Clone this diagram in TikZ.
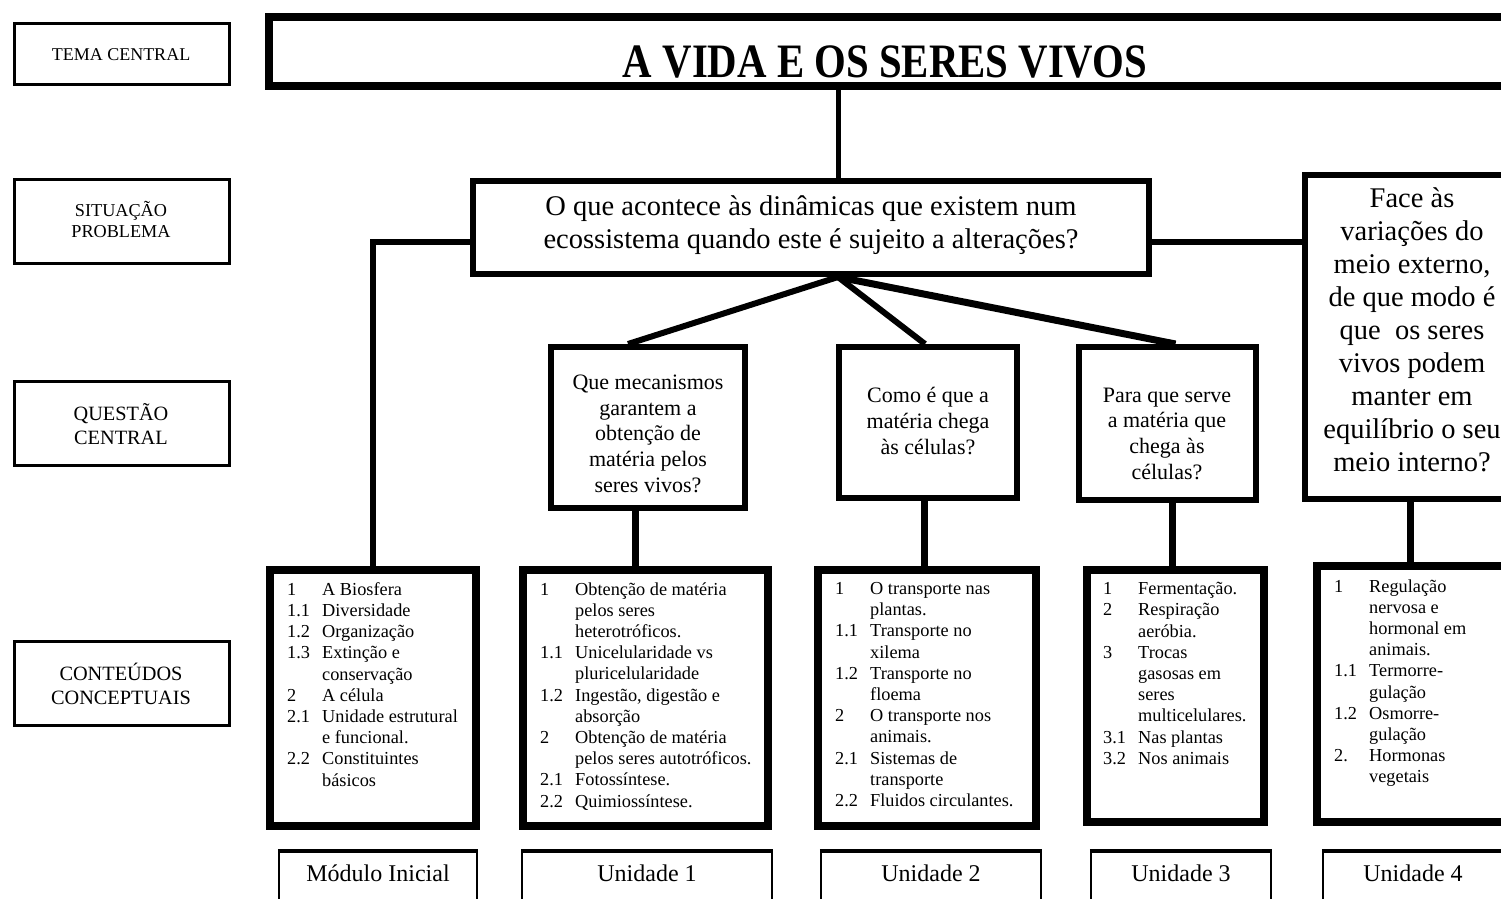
\documentclass[tikz,border=0pt]{standalone}
\usepackage{fontspec}
\setmainfont{Liberation Serif}
\usepackage{graphicx}
% numbered entry and its continuation line in the content lists
\newcommand\numitem[2]{\makebox[35pt][l]{#1}#2}
\newcommand\contline[1]{\hspace*{35pt}#1}

\begin{document}
\begin{tikzpicture}[x=1pt,y=-1pt,
  lbl/.style={draw, line width=2.5pt, minimum width=215pt, inner sep=0pt},
  lbltext/.style={align=center, inner sep=0pt, execute at begin node=\strut, execute at end node=\strut},
  thickbox/.style={draw, line width=6pt, inner sep=0pt},
  contbox/.style={draw, line width=8pt, inner sep=0pt},
  unitbox/.style={draw, line width=2.5pt, inner sep=0pt},
  qtext/.style={align=center, inner sep=0pt, font=\fontsize{22}{25.8}\selectfont,
    execute at begin node=\strut, execute at end node=\strut},
  bigtext/.style={align=center, inner sep=0pt, font=\fontsize{28.5}{33}\selectfont,
    execute at begin node=\strut, execute at end node=\strut},
  ctext/.style={align=left, inner sep=0pt, anchor=north west,
    font=\fontsize{18.3}{21.2}\selectfont, execute at begin node=\strut},
  utext/.style={inner sep=0pt, font=\fontsize{24}{28}\selectfont,
    execute at begin node=\strut},
  conn/.style={line width=6pt},
]
\useasboundingbox (0,0) rectangle (1501,898);
\clip (0,0) rectangle (1501,898);

% row labels on the left
\node[lbl, minimum height=61pt] (lab1) at (122,54) {};
\node[lbltext, font=\fontsize{18}{21}\selectfont] (lab1t) at (121,56) {TEMA CENTRAL};
\node[lbl, minimum height=84pt] (lab2) at (122,221.5) {};
\node[lbltext, font=\fontsize{18.2}{21}\selectfont] (lab2t) at (121,223) {SITUAÇÃO\\PROBLEMA};
\node[lbl, minimum height=84pt] (lab3) at (122,423.5) {};
\node[lbltext, font=\fontsize{20.3}{24}\selectfont] (lab3t) at (121,428) {QUESTÃO\\CENTRAL};
\node[lbl, minimum height=84pt] (lab4) at (122,683.5) {};
\node[lbltext, font=\fontsize{20.3}{24}\selectfont] (lab4t) at (121,687) {CONTEÚDOS\\CONCEPTUAIS};

% central theme
\node[draw, line width=8pt, minimum width=1240pt, minimum height=69pt, inner sep=0pt] (title) at (889,51.5) {};
\node[anchor=base, inner sep=0pt, font=\fontsize{48}{50}\selectfont\bfseries] (titlet) at (885,77)
  {\scalebox{0.85}[1]{A VIDA E OS SERES VIVOS}};

% problem situation
\node[thickbox, minimum width=676pt, minimum height=93pt] (sit) at (811,227.5) {};
\node[bigtext] (sitt) at (811,227.5) {O que acontece às dinâmicas que existem num\\ecossistema quando este é sujeito a alterações?};

% fourth question, on the right
\node[thickbox, minimum width=220pt, minimum height=324pt] (face) at (1415,337) {};
\node[bigtext] (facet) at (1412,335) {Face às\\variações do\\meio externo,\\de que modo é\\que\ \ os seres\\vivos podem\\manter em\\equilíbrio o seu\\meio interno?};

% central questions
\node[thickbox, minimum width=194pt, minimum height=161pt] (q1) at (648,427.5) {};
\node[qtext] (q1t) at (648,437.5) {Que mecanismos\\garantem a\\obtenção de\\matéria pelos\\seres vivos?};
\node[thickbox, minimum width=178pt, minimum height=151pt] (q2) at (928,422.5) {};
\node[qtext] (q2t) at (928,424.5) {Como é que a\\matéria chega\\às células?};
\node[thickbox, minimum width=177pt, minimum height=153pt] (q3) at (1167.5,423.5) {};
\node[qtext] (q3t) at (1167,437.5) {Para que serve\\a matéria que\\chega às\\células?};

% conceptual contents
\node[contbox, minimum width=206pt, minimum height=256pt] (c0) at (373,698) {};
\node[ctext] (c0t) at (287,582.2) {%
\numitem{1}{A Biosfera}\\
\numitem{1.1}{Diversidade}\\
\numitem{1.2}{Organização}\\
\numitem{1.3}{Extinção e}\\
\contline{conservação}\\
\numitem{2}{A célula}\\
\numitem{2.1}{Unidade estrutural}\\
\contline{e funcional.}\\
\numitem{2.2}{Constituintes}\\
\contline{básicos}};

\node[contbox, minimum width=245pt, minimum height=256pt] (c1) at (645.5,698) {};
\node[ctext] (c1t) at (540,582.2) {%
\numitem{1}{Obtenção de matéria}\\
\contline{pelos seres}\\
\contline{heterotróficos.}\\
\numitem{1.1}{Unicelularidade vs}\\
\contline{pluricelularidade}\\
\numitem{1.2}{Ingestão, digestão e}\\
\contline{absorção}\\
\numitem{2}{Obtenção de matéria}\\
\contline{pelos seres autotróficos.}\\
\numitem{2.1}{Fotossíntese.}\\
\numitem{2.2}{Quimiossíntese.}};

\node[contbox, minimum width=218pt, minimum height=256pt] (c2) at (927,698) {};
\node[ctext] (c2t) at (835,582.2) {%
\numitem{1}{O transporte nas}\\
\contline{plantas.}\\
\numitem{1.1}{Transporte no}\\
\contline{xilema}\\
\numitem{1.2}{Transporte no}\\
\contline{floema}\\
\numitem{2}{O transporte nos}\\
\contline{animais.}\\
\numitem{2.1}{Sistemas de}\\
\contline{transporte}\\
\numitem{2.2}{Fluidos circulantes.}};

\node[contbox, minimum width=177pt, minimum height=252pt] (c3) at (1175.5,696) {};
\node[ctext] (c3t) at (1103,582.2) {%
\numitem{1}{Fermentação.}\\
\numitem{2}{Respiração}\\
\contline{aeróbia.}\\
\numitem{3}{Trocas}\\
\contline{gasosas em}\\
\contline{seres}\\
\contline{multicelulares.}\\
\numitem{3.1}{Nas plantas}\\
\numitem{3.2}{Nos animais}};

\node[contbox, minimum width=199pt, minimum height=256pt] (c4) at (1416.5,694) {};
\node[ctext] (c4t) at (1334,579.2) {%
\numitem{1}{Regulação}\\
\contline{nervosa e}\\
\contline{hormonal em}\\
\contline{animais.}\\
\numitem{1.1}{Termorre-}\\
\contline{gulação}\\
\numitem{1.2}{Osmorre-}\\
\contline{gulação}\\
\numitem{2.}{Hormonas}\\
\contline{vegetais}};

% unit labels along the bottom
\node[unitbox, minimum width=198pt, minimum height=100pt] (u0) at (378,902) {};
\node[utext] (u0t) at (378,876) {Módulo Inicial};
\node[unitbox, minimum width=250pt, minimum height=100pt] (u1) at (647,902) {};
\node[utext] (u1t) at (647,876) {Unidade 1};
\node[unitbox, minimum width=220pt, minimum height=100pt] (u2) at (931,902) {};
\node[utext] (u2t) at (931,876) {Unidade 2};
\node[unitbox, minimum width=180pt, minimum height=100pt] (u3) at (1181,902) {};
\node[utext] (u3t) at (1181,876) {Unidade 3};
\node[unitbox, minimum width=180pt, minimum height=100pt] (u4) at (1413,902) {};
\node[utext] (u4t) at (1413,876) {Unidade 4};
\foreach \u in {u0,u1,u2,u3,u4}
  \draw[line width=4.5pt] (\u.north west) -- (\u.north east);

% connectors
\coordinate (hub) at (838,0);
\draw[line width=5pt] (title.south -| hub) -- (sit.north -| hub);
\draw[conn] ([yshift=-14.5pt]sit.west) -| (c0.north);
\draw[conn] ([yshift=-14.5pt]sit.east) -- ([yshift=-14.5pt]sit.east -| face.west);
\draw[conn] (sit.south -| hub) -- ([xshift=-20pt]q1.north);
\draw[conn] (sit.south -| hub) -- ([xshift=-3pt]q2.north);
\draw[line width=7pt] (sit.south -| hub) -- ([xshift=8pt]q3.north);
\draw[line width=7pt] ([xshift=-10pt]c1.north) -- ([xshift=-10pt]c1.north |- q1.south);
\draw[line width=7pt] ([xshift=-3pt]c2.north) -- ([xshift=-3pt]c2.north |- q2.south);
\draw[line width=7pt] ([xshift=-3.5pt]c3.north) -- ([xshift=-3.5pt]c3.north |- q3.south);
\draw[line width=7pt] ([xshift=-6.5pt]c4.north) -- ([xshift=-6.5pt]c4.north |- face.south);
\end{tikzpicture}
\end{document}
